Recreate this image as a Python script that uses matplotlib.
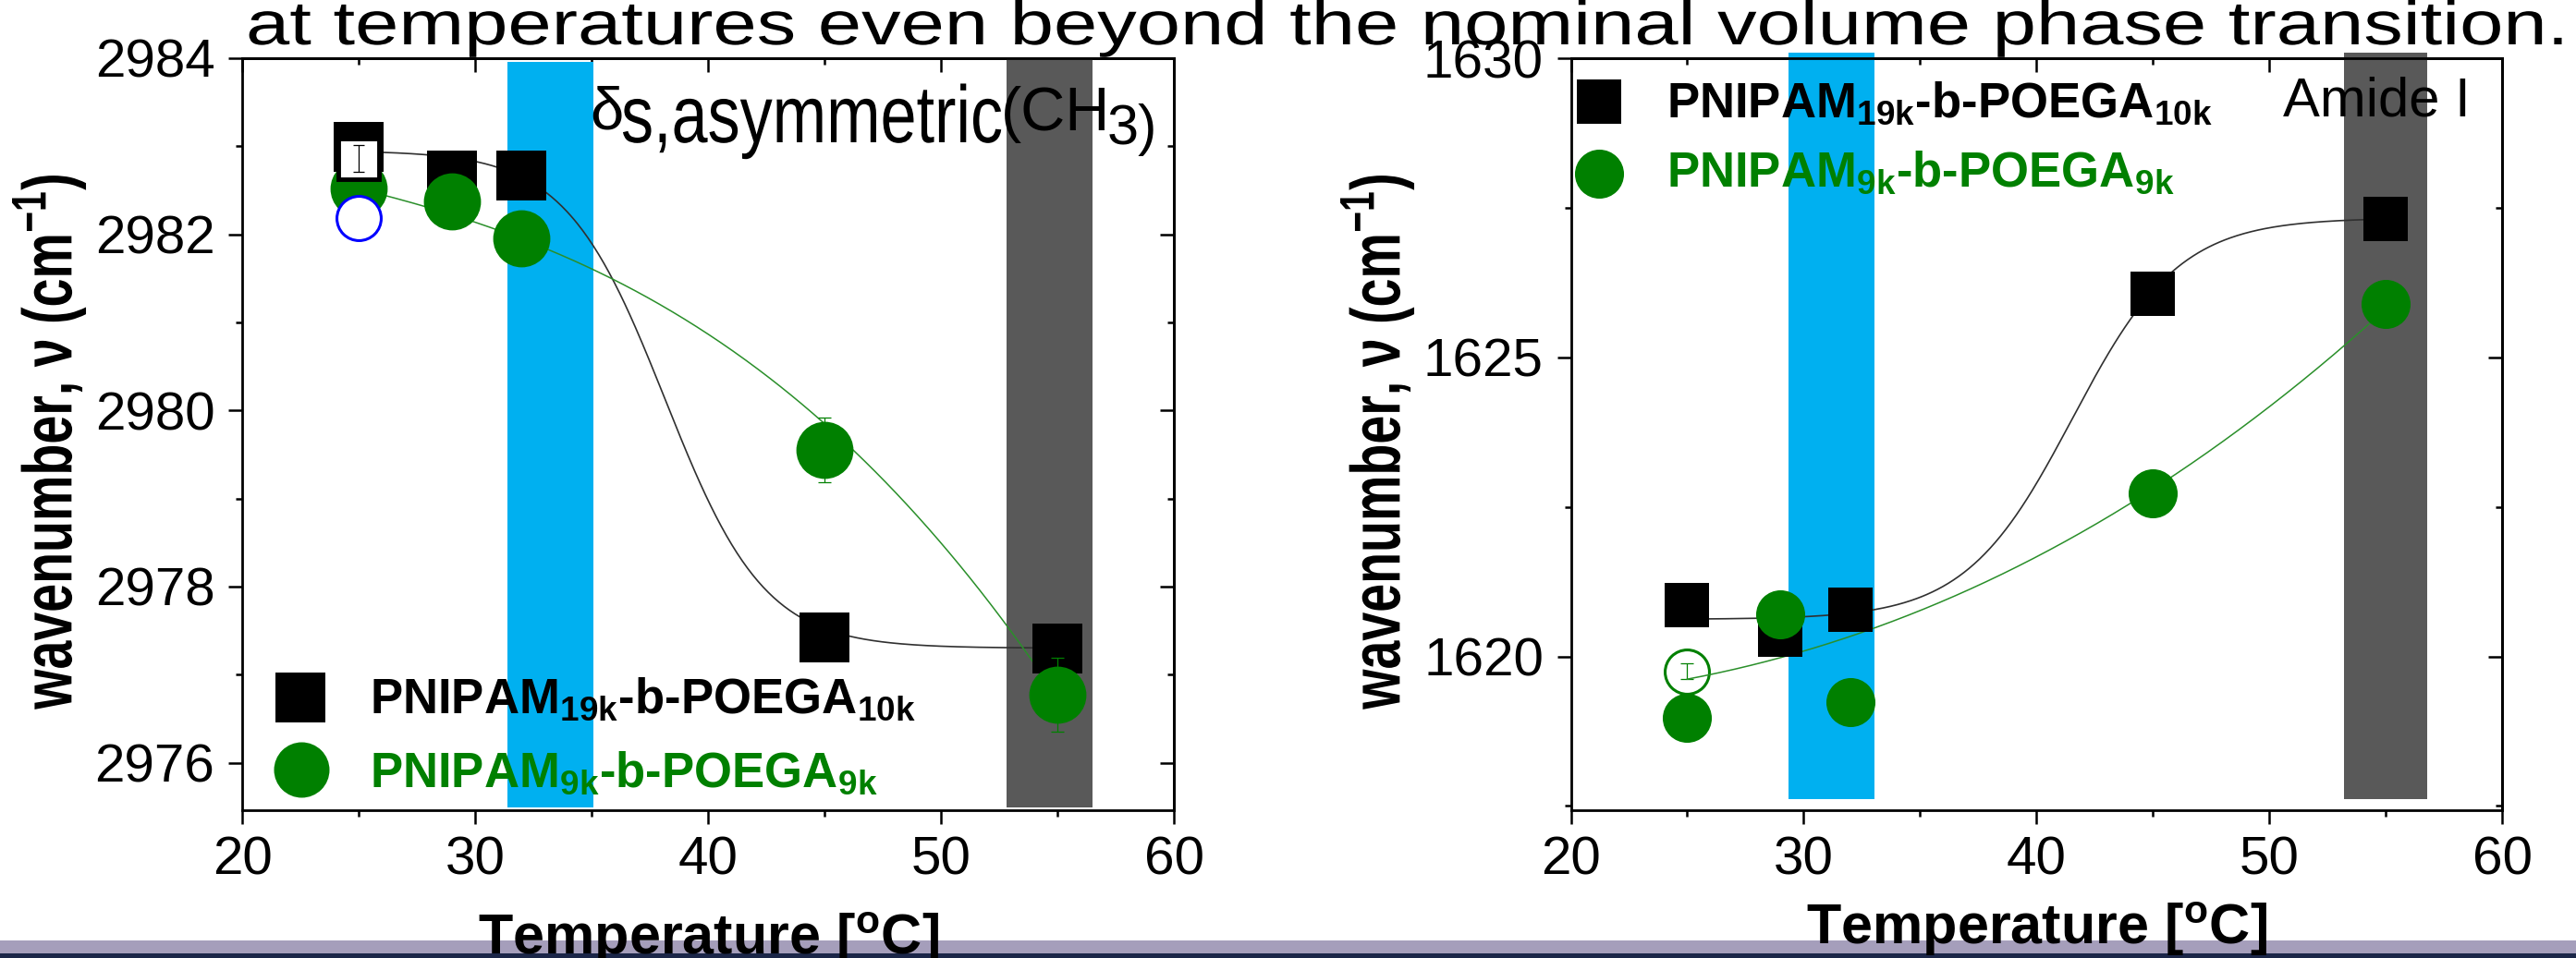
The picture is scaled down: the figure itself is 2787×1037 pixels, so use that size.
import numpy as np
import matplotlib
matplotlib.use('Agg')
import matplotlib.pyplot as plt
import matplotlib.patheffects as pe
from matplotlib.transforms import Affine2D
from matplotlib.patches import Rectangle
from matplotlib.lines import Line2D
from matplotlib.ticker import MultipleLocator, FormatStrFormatter

plt.rcParams['font.family'] = ['Liberation Sans', 'DejaVu Sans']
plt.rcParams['mathtext.fontset'] = 'custom'
plt.rcParams['mathtext.rm'] = 'Liberation Sans'
plt.rcParams['mathtext.it'] = 'Liberation Sans:italic'
plt.rcParams['mathtext.bf'] = 'Liberation Sans:bold'

# ---------------- data ----------------
temps = [25, 29, 32, 45, 55]

# left panel: delta_s,asym(CH3)
left_19k = [2982.99, 2982.67, 2982.67, 2977.42, 2977.30]
left_9k = [2982.52, 2982.37, 2981.95, 2979.55, 2976.77]
left_9k_err = [0.0, 0.0, 0.0, 0.37, 0.42]
left_19k_open_T = [25]
left_19k_open = [2982.86]
left_19k_open_err = [0.15]
left_blue_T = [25]
left_blue = [2982.19]

# right panel: Amide I
right_19k = [1620.86, 1620.37, 1620.78, 1626.06, 1627.32]
right_9k = [1618.97, 1620.70, 1619.24, 1622.73, 1625.90]
right_9k_open_T = [25]
right_9k_open = [1619.75]
right_9k_open_err = [0.13]

# fit curves (Boltzmann parameters for 19k, read-off samples for 9k)
fit_left_19k = dict(A1=2982.95, A2=2977.30, x0=38.16, dx=2.14)
fit_right_19k = dict(A1=1620.62, A2=1627.33, x0=41.54, dx=2.30)
left_9k_curve_T = [25, 26.2, 30.0, 33.15, 36.19, 37.38, 39.76, 43.07, 44.86, 46.25, 49.03, 52.33, 55]
left_9k_curve_v = [2982.49, 2982.47, 2982.14, 2981.82, 2981.46, 2981.28, 2980.88, 2980.29,
                   2979.90, 2979.54, 2978.82, 2977.68, 2976.76]
right_9k_curve_T = [25, 29.41, 31.79, 35.76, 39.73, 42.37, 46.01, 47.67, 49.78, 54.25]
right_9k_curve_v = [1619.67, 1619.96, 1620.23, 1620.93, 1621.70, 1622.26, 1622.95, 1623.44,
                    1624.11, 1625.58]
fit_range = [25, 55]

# shaded temperature bands
left_bands = [(31.39, 35.08), (52.82, 56.50)]
right_bands = [(29.35, 33.04), (53.20, 56.80)]
band_colors = ['#00B0F0', '#595959']

label_19k = r'PNIPAM$_{\mathbf{19k}}$-b-POEGA$_{\mathbf{10k}}$'
label_9k = r'PNIPAM$_{\mathbf{9k}}$-b-POEGA$_{\mathbf{9k}}$'
title_text = 'at temperatures even beyond the nominal volume phase transition.'

GREEN = '#008000'
W, H = 2787, 1037
DPI = 100


class Stretch(pe.AbstractPathEffect):
    """Scale the rendered glyph paths about an anchor (display pixels)."""
    def __init__(self, sx=1.0, sy=1.0, anchor=(0.0, 0.0)):
        super().__init__()
        self.sx, self.sy, self.anchor = sx, sy, anchor

    def draw_path(self, renderer, gc, tpath, affine, rgbFace=None):
        x0, y0 = self.anchor
        extra = Affine2D().translate(-x0, -y0).scale(self.sx, self.sy).translate(x0, y0)
        renderer.draw_path(gc, tpath, affine + extra, rgbFace)


def boltzmann(T, A1, A2, x0, dx):
    return A2 + (A1 - A2) / (1.0 + np.exp((T - x0) / dx))


def fx(x):
    return x / W


def fy(y):
    return 1.0 - y / H


fig = plt.figure(figsize=(W / DPI, H / DPI), dpi=DPI)
fig.patch.set_facecolor('white')

axL = fig.add_axes([fx(262), fy(877), 1008 / W, 814 / H])
axR = fig.add_axes([fx(1699.5), fy(877), 1007.5 / W, 814 / H])

YLABEL_BASE = {'L': 78, 'R': 1515}


def style(ax, ylim, ymaj, ymin, key):
    ax.set_xlim(20, 60)
    ax.set_ylim(*ylim)
    ax.xaxis.set_major_locator(MultipleLocator(10))
    ax.xaxis.set_minor_locator(MultipleLocator(5))
    ax.yaxis.set_major_locator(MultipleLocator(ymaj))
    ax.yaxis.set_minor_locator(MultipleLocator(ymin))
    ax.yaxis.set_major_formatter(FormatStrFormatter('%d'))
    ax.xaxis.set_major_formatter(FormatStrFormatter('%d'))
    ax.tick_params(which='both', direction='out', top=False, right=False,
                   width=1.8, labelsize=42, colors='black')
    ax.tick_params(which='major', length=10.8)
    ax.tick_params(which='minor', length=5.0)
    ax.tick_params(axis='x', pad=9)
    ax.tick_params(axis='y', pad=10.5)
    for s in ax.spines.values():
        s.set_linewidth(2.0)
    sx = ax.secondary_xaxis('top')
    sx.xaxis.set_major_locator(MultipleLocator(10))
    sx.xaxis.set_minor_locator(MultipleLocator(5))
    sx.tick_params(which='both', direction='in', labeltop=False, width=1.8)
    sx.tick_params(which='major', length=11)
    sx.tick_params(which='minor', length=5.0)
    sx.spines['top'].set_linewidth(2.0)
    sy = ax.secondary_yaxis('right')
    sy.yaxis.set_major_locator(MultipleLocator(ymaj))
    sy.yaxis.set_minor_locator(MultipleLocator(ymin))
    sy.tick_params(which='both', direction='in', labelright=False, width=1.8)
    sy.tick_params(which='major', length=11)
    sy.tick_params(which='minor', length=5.0)
    sy.spines['right'].set_linewidth(2.0)
    ax.set_xlabel(r'Temperature [$^{\mathbf{o}}$C]', fontsize=44, fontweight='bold')
    ax.set_ylabel(r'wavenumber, ν (cm$^{\mathbf{-1}}$)', fontsize=40, fontweight='bold')
    ax.xaxis.label.set_va('baseline')
    ax.yaxis.label.set_va('baseline')
    bx = YLABEL_BASE[key]
    ax.yaxis.label.set_path_effects([Stretch(1.36, 1.0, anchor=(bx, 0))])


style(axL, (2975.46, 2984.0), 2, 1, 'L')
style(axR, (1617.43, 1630.0), 5, 2.5, 'R')
axL.xaxis.set_label_coords(0.5, (877 - 1033) / 814)
axR.xaxis.set_label_coords(0.5, (877 - 1022) / 814)
axL.yaxis.set_label_coords((YLABEL_BASE['L'] - 262) / 1008, 0.49)
axR.yaxis.set_label_coords((YLABEL_BASE['R'] - 1699.5) / 1007.5, 0.49)

# bands
for (a, b), c in zip(left_bands, band_colors):
    top = 0.995 if c == '#00B0F0' else 1.0
    axL.axvspan(a, b, ymin=0.0037, ymax=top, color=c, lw=0, zorder=1)
for (a, b), c in zip(right_bands, band_colors):
    axR.axvspan(a, b, ymin=0.0147, ymax=1.0074, color=c, lw=0, zorder=1, clip_on=False)

Tg = np.linspace(fit_range[0], fit_range[1], 400)

# ---- left panel ----
axL.plot(Tg, boltzmann(Tg, **fit_left_19k), color='#303030', lw=1.2, zorder=2)
cL = np.polyfit(left_9k_curve_T, left_9k_curve_v, 3)
axL.plot(Tg, np.polyval(cL, Tg), color='#2a8f2a', lw=1.1, zorder=2)
axL.plot(temps, left_19k, ls='none', marker='s', ms=38.5, mew=0, color='black', zorder=3)
axL.errorbar(temps, left_9k, yerr=left_9k_err, fmt='none', ecolor=GREEN, elinewidth=0.9,
             capsize=4.7, capthick=0.9, zorder=3.2)
axL.plot(temps, left_9k, ls='none', marker='o', ms=44.5, mew=0, color=GREEN, zorder=3.4)
axL.plot(left_19k_open_T, left_19k_open, ls='none', marker='s', ms=31.5, mew=3.5,
         mfc='white', mec='black', zorder=3.6)
axL.errorbar(left_19k_open_T, left_19k_open, yerr=left_19k_open_err, fmt='none',
             ecolor='black', elinewidth=0.9, capsize=4.3, capthick=0.9, zorder=3.7)
axL.plot(left_blue_T, left_blue, ls='none', marker='o', ms=34.5, mew=2.2,
         mfc='white', mec='#0000FF', zorder=3.8)

# ---- right panel ----
axR.plot(right_9k_open_T, right_9k_open, ls='none', marker='o', ms=34.5, mew=2.2,
         mfc='white', mec=GREEN, zorder=1.8)
axR.errorbar(right_9k_open_T, right_9k_open, yerr=right_9k_open_err, fmt='none',
             ecolor=GREEN, elinewidth=0.9, capsize=4.7, capthick=0.9, zorder=1.9)
axR.plot(Tg, boltzmann(Tg, **fit_right_19k), color='#303030', lw=1.2, zorder=2)
cR = np.polyfit(right_9k_curve_T, right_9k_curve_v, 3)
axR.plot(Tg, np.polyval(cR, Tg), color='#2a8f2a', lw=1.1, zorder=2)
axR.plot(temps, right_19k, ls='none', marker='s', ms=34.2, mew=0, color='black', zorder=3)
axR.plot(temps, right_9k, ls='none', marker='o', ms=38.2, mew=0, color=GREEN, zorder=3.4)


# ---- legends (manual) ----
def legend_row(mx, my, marker, ms, color, tx, tbase, label):
    fig.add_artist(Line2D([fx(mx)], [fy(my)], transform=fig.transFigure, ls='none',
                          marker=marker, ms=ms, mew=0, color=color, zorder=5))
    fig.text(fx(tx), fy(tbase), label, fontsize=38, fontweight='bold', color=color,
             ha='left', va='baseline', zorder=5)


legend_row(325, 755, 's', 38.2, 'black', 400, 772, label_19k)
legend_row(326, 833, 'o', 43.2, GREEN, 400, 852, label_9k)
legend_row(1730, 110, 's', 34.6, 'black', 1803, 127, label_19k)
legend_row(1730, 188, 'o', 38.2, GREEN, 1803, 202, label_9k)

# ---- annotations ----
fig.text(fx(2470), fy(125), 'Amide I', fontsize=43, ha='left', va='baseline', zorder=5)
fig.text(fx(638), fy(140), 'δ', fontsize=47, ha='left', va='baseline', zorder=5)
fig.text(fx(672), fy(154), 's,asymmetric', fontsize=50.5, ha='left', va='baseline', zorder=5,
         path_effects=[Stretch(1.0, 1.25, anchor=(672, H - 154))])
ch = fig.text(fx(1083), fy(141), '(CH', fontsize=48, ha='left', va='baseline', zorder=5)
sub3 = fig.text(fx(1190), fy(156), '3)', fontsize=44, ha='left', va='baseline', zorder=5)

# ---- slide title (partly hidden) ----
title = fig.text(fx(266), fy(48), title_text, fontsize=48, ha='left', va='baseline',
                 color='black', zorder=-1)
fig.canvas.draw()
rend = fig.canvas.get_renderer()
bb = title.get_window_extent(rend)
sx_title = 2514.0 / bb.width
title.set_path_effects([Stretch(sx_title, 1.0, anchor=(266, H - 48))])
bch = ch.get_window_extent(rend)
sub3.set_x(fx(bch.x1 - 4))

# ---- slide footer strip ----
fig.add_artist(Rectangle((0, fy(1032)), 1, 14 / H, transform=fig.transFigure,
                         facecolor='#A59EBB', edgecolor='none', zorder=-2))
fig.add_artist(Rectangle((0, 0), 1, fy(1032), transform=fig.transFigure,
                         facecolor='#1B2648', edgecolor='none', zorder=-2))

fig.savefig('out.png', dpi=DPI, facecolor='white')
